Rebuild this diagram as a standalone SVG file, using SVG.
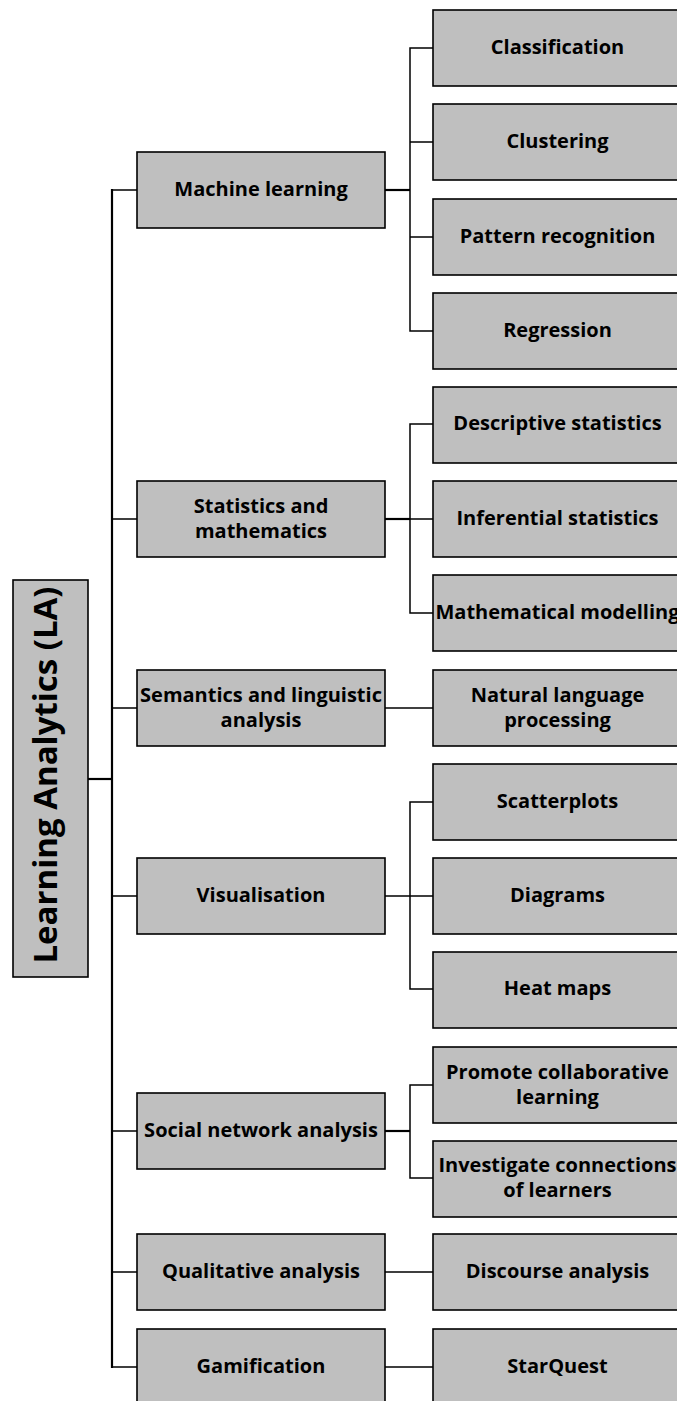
<svg xmlns="http://www.w3.org/2000/svg" width="677" height="1401" viewBox="0 0 677 1401">
  <style>
    .box { fill: #bfbfbf; stroke: #000; stroke-width: 1.6; }
    .lbl { font-family: "Open Sans", "Liberation Sans", sans-serif; font-weight: bold; font-size: 20px; fill: #000; text-anchor: middle; }
    .root { font-family: "Open Sans", "Liberation Sans", sans-serif; font-weight: bold; font-size: 33px; fill: #000; text-anchor: middle; }
    .wire { fill: none; stroke: #000; stroke-width: 1.5; }
    .thick { fill: none; stroke: #000; stroke-width: 2.2; }
  </style>

  <!-- connectors -->
  <g id="connectors">
    <!-- root to trunk -->
    <line class="thick" x1="88" y1="779" x2="112" y2="779"/>
    <line class="thick" x1="112" y1="189" x2="112" y2="1368"/>
    <!-- trunk to first-level boxes -->
    <path class="wire" d="M112 190H137 M112 519H137 M112 708H137 M112 896H137 M112 1131H137 M112 1272H137 M112 1367H137"/>
    <!-- Machine learning -->
    <line class="thick" x1="385" y1="190" x2="410" y2="190"/>
    <path class="wire" d="M433 48H410V331H433 M410 142H433 M410 237H433"/>
    <!-- Statistics and mathematics -->
    <line class="thick" x1="385" y1="519" x2="410" y2="519"/>
    <path class="wire" d="M433 424H410V613H433 M410 519H433"/>
    <!-- Semantics -->
    <path class="wire" d="M385 708H433"/>
    <!-- Visualisation -->
    <path class="wire" d="M385 896H433 M433 802H410V989H433"/>
    <!-- Social network analysis -->
    <line class="thick" x1="385" y1="1131" x2="410" y2="1131"/>
    <path class="wire" d="M433 1085H410V1178H433"/>
    <!-- Qualitative / Gamification -->
    <path class="wire" d="M385 1272H433 M385 1367H433"/>
  </g>

  <!-- root -->
  <g id="root">
    <rect class="box" x="13" y="580" width="75" height="397"/>
    <text class="root" transform="translate(57 775) rotate(-90)">Learning Analytics (LA)</text>
  </g>

  <!-- first level -->
  <g id="machine-learning">
    <rect class="box" x="137" y="152" width="248" height="76"/>
    <text class="lbl" x="261" y="195.5">Machine learning</text>
  </g>
  <g id="statistics">
    <rect class="box" x="137" y="481" width="248" height="76"/>
    <text class="lbl" x="261" y="512.5">Statistics and</text>
    <text class="lbl" x="261" y="537.5">mathematics</text>
  </g>
  <g id="semantics">
    <rect class="box" x="137" y="670" width="248" height="76"/>
    <text class="lbl" x="261" y="701.5">Semantics and linguistic</text>
    <text class="lbl" x="261" y="726.5">analysis</text>
  </g>
  <g id="visualisation">
    <rect class="box" x="137" y="858" width="248" height="76"/>
    <text class="lbl" x="261" y="901.5">Visualisation</text>
  </g>
  <g id="social-network">
    <rect class="box" x="137" y="1093" width="248" height="76"/>
    <text class="lbl" x="261" y="1136.5">Social network analysis</text>
  </g>
  <g id="qualitative">
    <rect class="box" x="137" y="1234" width="248" height="76"/>
    <text class="lbl" x="261" y="1277.5">Qualitative analysis</text>
  </g>
  <g id="gamification">
    <rect class="box" x="137" y="1329" width="248" height="76"/>
    <text class="lbl" x="261" y="1372.5">Gamification</text>
  </g>

  <!-- second level -->
  <g id="classification">
    <rect class="box" x="433" y="10" width="249" height="76"/>
    <text class="lbl" x="557.5" y="53.5">Classification</text>
  </g>
  <g id="clustering">
    <rect class="box" x="433" y="104" width="249" height="76"/>
    <text class="lbl" x="557.5" y="147.5">Clustering</text>
  </g>
  <g id="pattern-recognition">
    <rect class="box" x="433" y="199" width="249" height="76"/>
    <text class="lbl" x="557.5" y="242.5">Pattern recognition</text>
  </g>
  <g id="regression">
    <rect class="box" x="433" y="293" width="249" height="76"/>
    <text class="lbl" x="557.5" y="336.5">Regression</text>
  </g>
  <g id="descriptive">
    <rect class="box" x="433" y="387" width="249" height="76"/>
    <text class="lbl" x="557.5" y="429.5">Descriptive statistics</text>
  </g>
  <g id="inferential">
    <rect class="box" x="433" y="481" width="249" height="76"/>
    <text class="lbl" x="557.5" y="524.5">Inferential statistics</text>
  </g>
  <g id="math-modelling">
    <rect class="box" x="433" y="575" width="249" height="76"/>
    <text class="lbl" x="557.5" y="618.5">Mathematical modelling</text>
  </g>
  <g id="nlp">
    <rect class="box" x="433" y="670" width="249" height="76"/>
    <text class="lbl" x="557.5" y="701.5">Natural language</text>
    <text class="lbl" x="557.5" y="726.5">processing</text>
  </g>
  <g id="scatterplots">
    <rect class="box" x="433" y="764" width="249" height="76"/>
    <text class="lbl" x="557.5" y="807.5">Scatterplots</text>
  </g>
  <g id="diagrams">
    <rect class="box" x="433" y="858" width="249" height="76"/>
    <text class="lbl" x="557.5" y="901.5">Diagrams</text>
  </g>
  <g id="heat-maps">
    <rect class="box" x="433" y="952" width="249" height="76"/>
    <text class="lbl" x="557.5" y="994.5">Heat maps</text>
  </g>
  <g id="promote">
    <rect class="box" x="433" y="1047" width="249" height="76"/>
    <text class="lbl" x="557.5" y="1078.5">Promote collaborative</text>
    <text class="lbl" x="557.5" y="1103.5">learning</text>
  </g>
  <g id="investigate">
    <rect class="box" x="433" y="1141" width="249" height="76"/>
    <text class="lbl" x="557.5" y="1172">Investigate connections</text>
    <text class="lbl" x="557.5" y="1197">of learners</text>
  </g>
  <g id="discourse">
    <rect class="box" x="433" y="1234" width="249" height="76"/>
    <text class="lbl" x="557.5" y="1277.5">Discourse analysis</text>
  </g>
  <g id="starquest">
    <rect class="box" x="433" y="1329" width="249" height="76"/>
    <text class="lbl" x="557.5" y="1372.5">StarQuest</text>
  </g>
</svg>
